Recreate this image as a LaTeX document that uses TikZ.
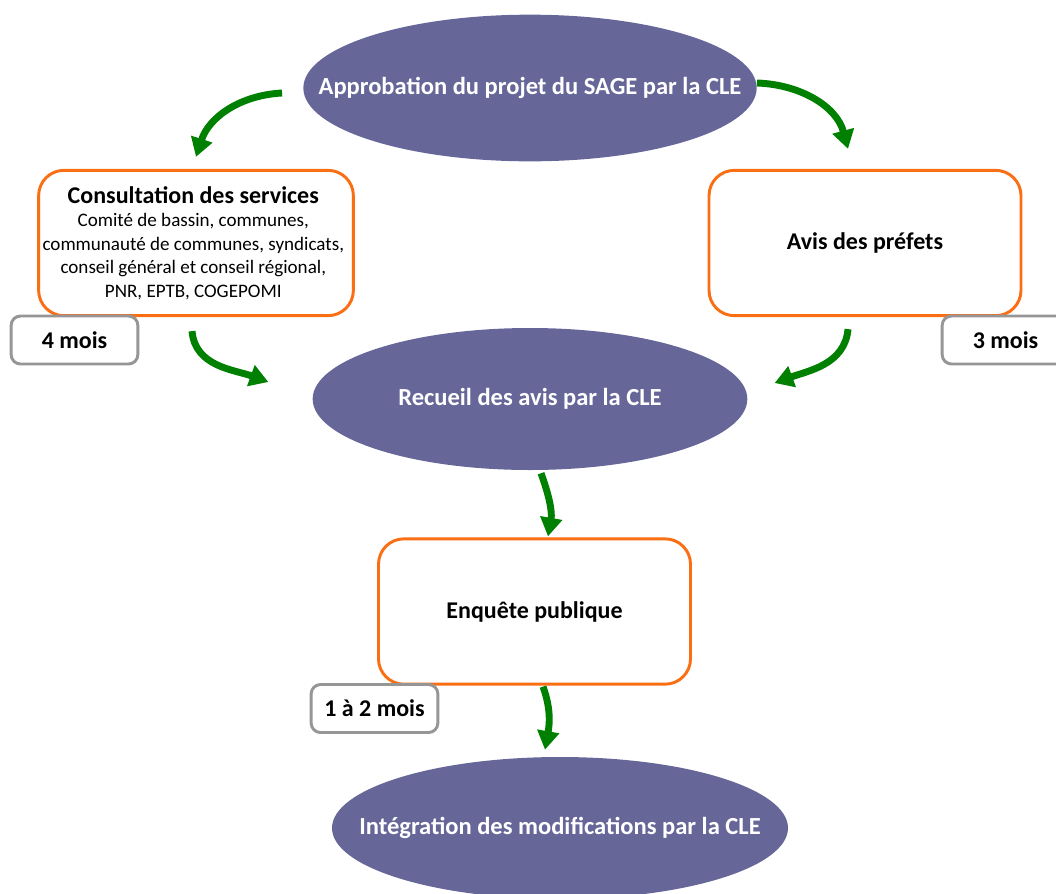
\documentclass[tikz,border=0pt]{standalone}
\usepackage{fontspec}
\setmainfont{Carlito}
\usepackage{xcolor}
\usetikzlibrary{calc}
\usetikzlibrary{shapes.geometric}
\usetikzlibrary{arrows.meta}
\definecolor{sagepurple}{RGB}{102,102,153}
\definecolor{sageorange}{RGB}{250,110,20}
\definecolor{sagegreen}{RGB}{0,128,0}
\definecolor{sagegray}{RGB}{150,150,150}
\tikzstyle{myellipse} = [ellipse, fill=sagepurple, draw=none, inner xsep=-45pt, inner ysep=0pt,
minimum width=340pt, minimum height=110pt, text=white, font=\fontsize{18.4}{21}\selectfont\bfseries]
\tikzstyle{mybox} = [draw=sageorange, fill=white, line width=2.2pt,
rectangle, rounded corners=19pt, minimum width=234pt, minimum height=109pt, align=center,
font=\fontsize{18}{21}\selectfont\bfseries]
\tikzstyle{timebox} = [draw=sagegray, fill=white, line width=2.2pt,
rectangle, rounded corners=7pt, minimum width=95pt, minimum height=36pt, font=\fontsize{18}{21}\selectfont\bfseries]
\tikzstyle{flow} = [draw=sagegreen, line width=5.2pt, -{Triangle[width=16pt,length=14pt]}]

\begin{document}
\begin{tikzpicture}[x=0.75pt, y=0.75pt]
        \useasboundingbox (0,0) rectangle (1056,-893);
        % etapes
        \node [myellipse] (approb) at (530,-88) {Approbation du projet du SAGE par la CLE};
        \node [mybox, inner sep=0pt] (consult) at (196,-243) {%
            \begin{minipage}{232pt}
                \centering
                {\fontsize{18}{22}\selectfont\bfseries Consultation des services\par}
                \fontsize{14.3}{17.6}\selectfont\mdseries
                Comité de bassin, communes,\\
                communauté de communes, syndicats,\\
                conseil général et conseil régional,\\
                PNR, EPTB, COGEPOMI
            \end{minipage}
        };
        \node [mybox] (avis) at (865,-243) {Avis des préfets};
        \node [myellipse, minimum width=326pt, minimum height=106.5pt] (recueil) at (530,-399) {Recueil des avis par la CLE};
        \node [mybox] (enquete) at (534.5,-611.5) {Enquête publique};
        \node [myellipse, minimum width=342pt, minimum height=106.5pt] (integr) at (560,-828) {Intégration des modifications par la CLE};
        % durees
        \node [timebox] (t4) at (74.5,-340) {4 mois};
        \node [timebox] (t3) at (1005.5,-340) {3 mois};
        \node [timebox] (t12) at (374.5,-708.5) {1 à 2 mois};
        % fleches
        \draw [flow] ($(approb.west)+(-21,-5)$) to[out=183, in=72] ($(consult.north)+(0,12)$);
        \draw [flow] ($(approb.east)+(0,5)$) to[out=-2, in=105] ($(avis.north)+(-17,20)$);
        \draw [flow] ($(consult.south)+(-4,-14)$) to[out=-85, in=160] ($(recueil.west)+(-44,17)$);
        \draw [flow] ($(avis.south)+(-17,-12)$) to[out=-95, in=20] ($(recueil.east)+(27,16)$);
        \draw [flow] ($(recueil.south)+(11,-3)$) to[out=-70, in=80] ($(enquete.north)+(13.5,1)$);
        \draw [flow] ($(enquete.south)+(8.5,-1)$) to[out=-70, in=80] ($(integr.north)+(-15,7)$);
    \end{tikzpicture}
\end{document}
